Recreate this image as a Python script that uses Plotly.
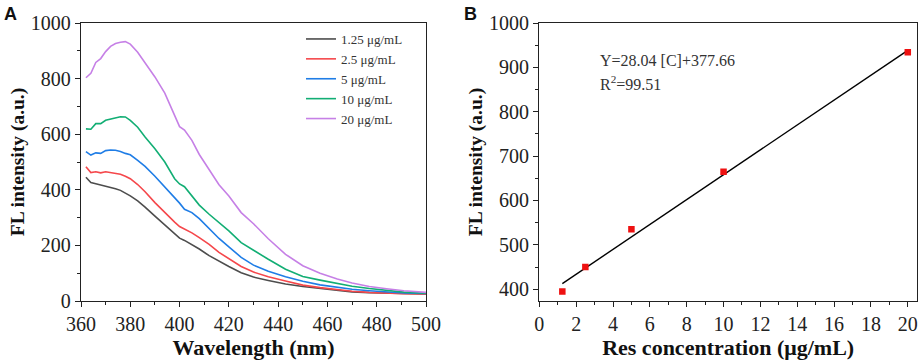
import plotly.graph_objects as go

# ---------------- Panel A data ----------------
wavelength = [362, 364, 366, 368, 370, 372, 374, 376, 378, 380, 383, 386, 390, 394, 398,
              400, 402, 405, 408, 412, 416, 420, 425, 430, 436, 443, 450, 457, 464, 470,
              477, 484, 491, 500]

fl_1_25 = [445, 426, 422, 418, 414, 409, 404, 398, 389, 378, 360, 338, 305, 272, 240,
           226, 218, 204, 187, 163, 143, 124, 102, 86, 74, 61, 52, 45, 38, 33,
           30, 28, 26, 25]
fl_2_5 = [483, 462, 465, 461, 465, 462, 460, 456, 449, 440, 419, 393, 354, 318, 284,
          268, 259, 245, 228, 204, 175, 152, 124, 104, 87, 72, 57, 48, 40, 35,
          31, 28, 26, 25]
fl_5 = [537, 525, 533, 531, 541, 543, 542, 538, 531, 526, 506, 484, 449, 411, 372,
        352, 330, 318, 296, 262, 225, 195, 157, 129, 107, 87, 71, 58, 48, 42,
        37, 32, 29, 27]
fl_10 = [619, 618, 638, 638, 650, 655, 659, 663, 662, 650, 625, 590, 548, 500, 440,
         421, 411, 380, 345, 312, 282, 252, 210, 182, 150, 114, 88, 75, 63, 53,
         45, 38, 32, 28]
fl_20 = [803, 819, 858, 872, 897, 916, 926, 931, 933, 924, 895, 858, 806, 748, 665,
         627, 615, 578, 527, 470, 418, 378, 318, 278, 224, 168, 127, 100, 79, 65,
         52, 44, 37, 31]

series_names = ["1.25 μg/mL", "2.5 μg/mL", "5 μg/mL", "10 μg/mL", "20 μg/mL"]
series_values = [fl_1_25, fl_2_5, fl_5, fl_10, fl_20]
series_colors = ["#4d4d4d", "#f5474b", "#1f7de6", "#12ae74", "#c680e6"]

# ---------------- Panel B data ----------------
conc = [1.25, 2.5, 5, 10, 20]
intensity = [395, 450, 535, 665, 934]
fit_slope = 28.04
fit_intercept = 377.66
fit_x = [conc[0], conc[-1]]
fit_y = [fit_slope * c + fit_intercept for c in fit_x]

SERIF = "Liberation Serif"
SANS = "Liberation Sans"
AX = "#222222"

W, H = 920, 364
ML, MR, MT, MB = 81, 3, 23, 63
PW, PH = W - ML - MR, H - MT - MB


def px_x(p):
    return (p - ML) / PW


def px_y(p):
    return 1 - (p - MT) / PH


fig = go.Figure()

for name, vals, col in zip(series_names, series_values, series_colors):
    fig.add_trace(go.Scatter(x=wavelength, y=vals, mode="lines", name=name,
                             line=dict(color=col, width=1.6),
                             xaxis="x", yaxis="y"))

fig.add_trace(go.Scatter(x=fit_x, y=fit_y, mode="lines", showlegend=False,
                         line=dict(color="black", width=1.4), xaxis="x2", yaxis="y2"))
fig.add_trace(go.Scatter(x=conc, y=intensity, mode="markers", showlegend=False,
                         marker=dict(symbol="square", color="#ee1111", size=6.5),
                         xaxis="x2", yaxis="y2"))


def axis(**kw):
    d = dict(showline=True, linecolor=AX, linewidth=1.4, mirror=True,
             ticks="outside", ticklen=5, tickwidth=1.2, tickcolor=AX,
             showgrid=False, zeroline=False, automargin=False,
             tickfont=dict(family=SERIF, size=20, color=AX))
    d.update(kw)
    return d


xtitle_font = dict(family=SERIF, size=22, color="#111")
ytitle_font = dict(family=SERIF, size=19.5, color="#111")

fig.update_layout(
    width=W, height=H,
    margin=dict(l=ML, r=MR, t=MT, b=MB, autoexpand=False),
    font=dict(family=SERIF, color=AX),
    plot_bgcolor="white", paper_bgcolor="white",
    xaxis=axis(domain=[0, px_x(426)], range=[360, 500], dtick=20, tick0=360,
               minor=dict(dtick=10, ticks="outside", ticklen=3, tickcolor=AX),
               title=dict(text="<b>Wavelength (nm)</b>", font=xtitle_font, standoff=1),
               anchor="y"),
    yaxis=axis(domain=[0, 1], range=[0, 1000], dtick=200,
               minor=dict(dtick=100, ticks="outside", ticklen=3, tickcolor=AX),
               title=dict(text="<b>FL intensity (a.u.)</b>", font=ytitle_font, standoff=0),
               anchor="x"),
    xaxis2=axis(domain=[px_x(539.3), 1], range=[0, 20.5], dtick=2, tick0=0,
                minor=dict(dtick=1, ticks="outside", ticklen=3, tickcolor=AX),
                title=dict(text="<b>Res concentration (μg/mL)</b>", font=xtitle_font, standoff=1),
                anchor="y2"),
    yaxis2=axis(domain=[0, 1], range=[373.5, 1000], dtick=100, tick0=0,
                minor=dict(dtick=50, ticks="outside", ticklen=3, tickcolor=AX),
                title=dict(text="<b>FL intensity (a.u.)</b>", font=ytitle_font, standoff=1),
                anchor="x2"),
    legend=dict(x=px_x(301), y=px_y(24), xanchor="left", yanchor="top",
                bgcolor="rgba(0,0,0,0)", borderwidth=0, tracegroupgap=0,
                font=dict(family=SERIF, size=13, color="#333"), itemwidth=30),
    annotations=[
        dict(text="<b>A</b>", x=px_x(2), y=px_y(2), xref="paper", yref="paper",
             xanchor="left", yanchor="top", showarrow=False,
             font=dict(family=SANS, size=18, color="#111")),
        dict(text="<b>B</b>", x=px_x(462), y=px_y(2), xref="paper", yref="paper",
             xanchor="left", yanchor="top", showarrow=False,
             font=dict(family=SANS, size=18, color="#111")),
        dict(text="Y=28.04 [C]+377.66", x=px_x(598), y=px_y(60), xref="paper", yref="paper",
             xanchor="left", yanchor="middle", showarrow=False,
             font=dict(family=SERIF, size=16, color="#333")),
        dict(text="R<sup>2</sup>=99.51", x=px_x(598), y=px_y(83), xref="paper", yref="paper",
             xanchor="left", yanchor="middle", showarrow=False,
             font=dict(family=SERIF, size=16, color="#333")),
    ],
)

fig.write_html("out.html", config={"displayModeBar": False},
               post_script="document.body.style.margin='0';document.body.style.padding='0';")
